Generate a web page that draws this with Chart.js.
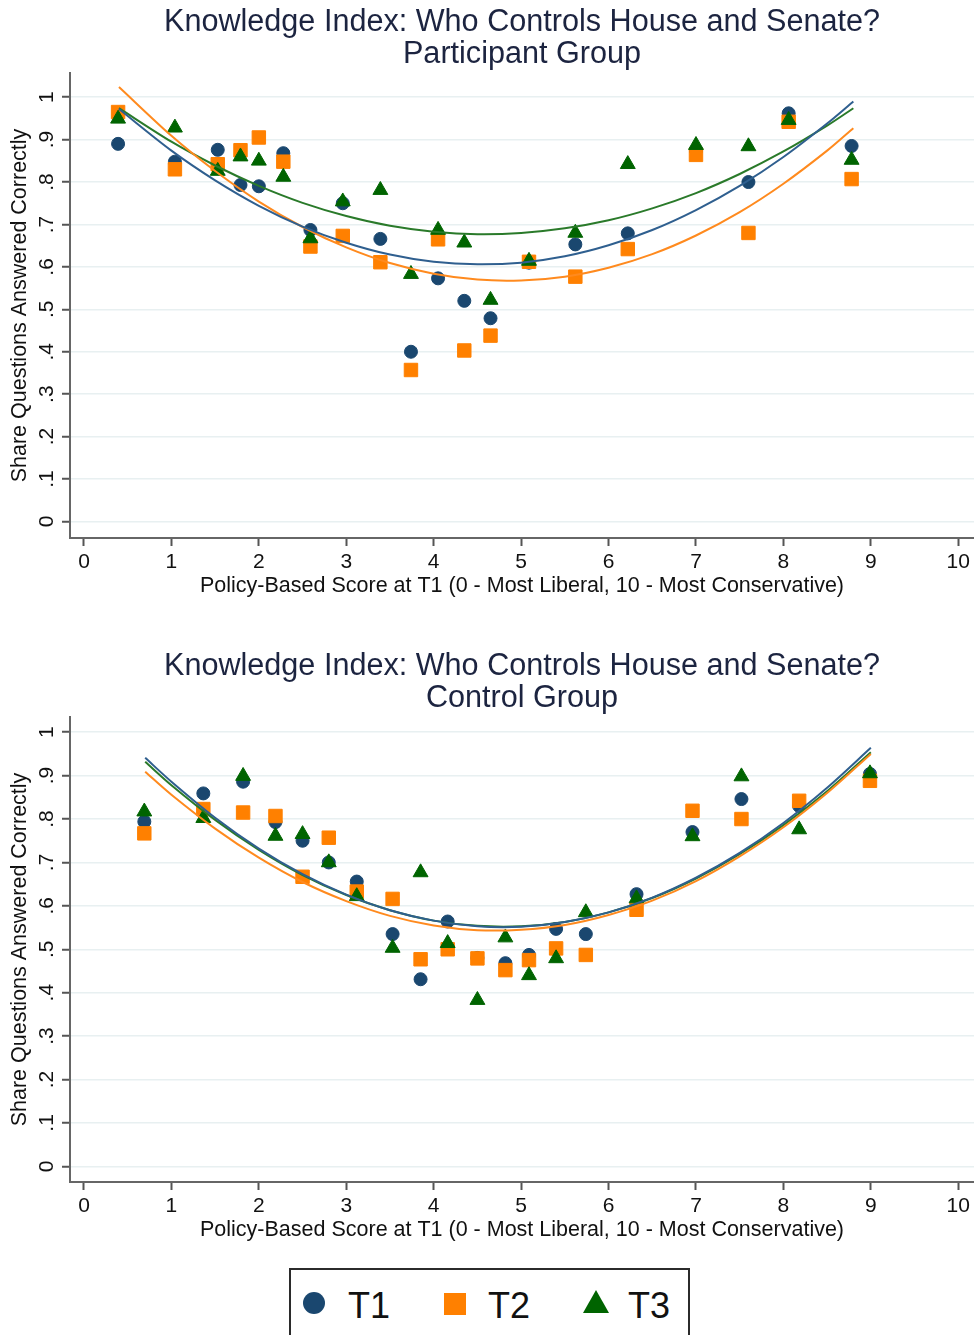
<!DOCTYPE html>
<html>
<head>
<meta charset="utf-8">
<script src="https://cdn.jsdelivr.net/npm/chart.js@4.4.1/dist/chart.umd.min.js"></script>
<style>
  html, body { margin: 0; padding: 0; background: #fff; }
  body { width: 974px; height: 1335px; position: relative; overflow: hidden;
         font-family: "Liberation Sans", Arial, sans-serif; }
  canvas { position: absolute; left: 0; }
  #c1 { top: 0; }
  #c2 { top: 644px; }
  #legend { position: absolute; left: 289px; top: 1268px; width: 401px; height: 90px;
            border: 2px solid #2b2b2b; box-sizing: border-box; }
  #legend .sym, #legend .lab { position: absolute; }
  #legend .lab { font-size: 36px; line-height: 36px; color: #111; }
</style>
</head>
<body>
<canvas id="c1" width="974" height="610"></canvas>
<canvas id="c2" width="974" height="610"></canvas>
<div id="legend">
  <div class="sym" style="left:12px;top:22px;width:22px;height:22px;border-radius:50%;background:#1a476f"></div>
  <span class="lab" style="left:57px;top:18px">T1</span>
  <div class="sym" style="left:153px;top:23px;width:22px;height:22px;background:#ff8000"></div>
  <span class="lab" style="left:197px;top:18px">T2</span>
  <div class="sym" style="left:292px;top:20px;width:0;height:0;border-left:13px solid transparent;border-right:13px solid transparent;border-bottom:23px solid #006400"></div>
  <span class="lab" style="left:337px;top:18px">T3</span>
</div>
<script>
// tick labels
var xTickValues = [0, 1, 2, 3, 4, 5, 6, 7, 8, 9, 10];
var yTickLabels = ['0', '.1', '.2', '.3', '.4', '.5', '.6', '.7', '.8', '.9', '1'];

// Participant group (binned means)
var partX  = [0.39, 1.04, 1.53, 1.79, 2.0, 2.28, 2.59, 2.96, 3.39, 3.74, 4.05, 4.35, 4.65, 5.09, 5.62, 6.22, 7.0, 7.6, 8.06, 8.78];
var partT1 = [0.89, 0.848, 0.876, 0.793, 0.79, 0.868, 0.687, 0.75, 0.666, 0.40, 0.573, 0.52, 0.479, 0.61, 0.653, 0.679, 0.875, 0.80, 0.962, 0.885];
var partT2 = [0.965, 0.83, 0.842, 0.875, 0.905, 0.848, 0.648, 0.673, 0.611, 0.357, 0.665, 0.403, 0.438, 0.612, 0.577, 0.642, 0.864, 0.68, 0.942, 0.807];
var partT3 = [0.949, 0.928, 0.826, 0.86, 0.85, 0.812, 0.667, 0.754, 0.781, 0.583, 0.687, 0.657, 0.522, 0.614, 0.68, 0.842, 0.887, 0.884, 0.946, 0.852];

// Participant group quadratic fit curves
var partFitX  = [0.4, 1, 1.5, 2, 2.5, 3, 3.5, 4, 4.5, 5, 5.5, 6, 6.5, 7, 7.5, 8, 8.5, 8.8];
var partFitT1 = [0.972, 0.874, 0.804, 0.744, 0.695, 0.657, 0.629, 0.612, 0.606, 0.610, 0.625, 0.651, 0.687, 0.734, 0.791, 0.859, 0.938, 0.990];
var partFitT2 = [1.024, 0.909, 0.826, 0.754, 0.694, 0.646, 0.609, 0.584, 0.570, 0.568, 0.577, 0.598, 0.630, 0.674, 0.729, 0.796, 0.874, 0.927];
var partFitT3 = [0.974, 0.895, 0.839, 0.791, 0.751, 0.720, 0.697, 0.683, 0.677, 0.680, 0.691, 0.710, 0.738, 0.774, 0.819, 0.872, 0.933, 0.974];

// Control group
var ctrlX  = [0.69, 1.365, 1.82, 2.19, 2.50, 2.80, 3.12, 3.53, 3.85, 4.16, 4.50, 4.82, 5.09, 5.40, 5.74, 6.32, 6.96, 7.52, 8.18, 8.99];
var ctrlT1 = [0.794, 0.859, 0.886, 0.793, 0.75, 0.70, 0.656, 0.535, 0.431, 0.564, 0.48, 0.468, 0.487, 0.547, 0.535, 0.627, 0.77, 0.846, 0.83, 0.904];
var ctrlT2 = [0.767, 0.823, 0.815, 0.807, 0.667, 0.757, 0.633, 0.616, 0.477, 0.50, 0.479, 0.452, 0.475, 0.502, 0.487, 0.591, 0.819, 0.80, 0.842, 0.888];
var ctrlT3 = [0.817, 0.802, 0.899, 0.761, 0.765, 0.70, 0.622, 0.503, 0.677, 0.514, 0.383, 0.527, 0.44, 0.479, 0.585, 0.617, 0.76, 0.898, 0.776, 0.905];

var ctrlFitX  = [0.7, 1, 1.5, 2, 2.5, 3, 3.5, 4, 4.5, 5, 5.5, 6, 6.5, 7, 7.5, 8, 8.5, 9.0];
var ctrlFitT1 = [0.941, 0.886, 0.803, 0.732, 0.673, 0.626, 0.590, 0.566, 0.553, 0.552, 0.563, 0.585, 0.619, 0.665, 0.722, 0.791, 0.872, 0.964];
var ctrlFitT2 = [0.909, 0.856, 0.778, 0.711, 0.655, 0.611, 0.577, 0.555, 0.544, 0.545, 0.556, 0.579, 0.612, 0.657, 0.714, 0.781, 0.860, 0.950];
var ctrlFitT3 = [0.932, 0.878, 0.798, 0.729, 0.671, 0.625, 0.590, 0.566, 0.554, 0.553, 0.563, 0.585, 0.618, 0.663, 0.719, 0.786, 0.864, 0.954];

var FONT = '"Liberation Sans", Arial, sans-serif';
Chart.defaults.font.family = FONT;
Chart.defaults.color = '#111';

function pts(xs, ys) {
  return xs.map(function(x, i) { return { x: x, y: ys[i] }; });
}

function scatterSet(label, data, color, style, r, order) {
  return {
    label: label, data: data, pointStyle: style, pointRadius: r,
    backgroundColor: color, borderColor: color, borderWidth: 1, order: order
  };
}

function fitSet(data, color) {
  return {
    label: 'fit', data: data, showLine: true, pointRadius: 0,
    borderColor: color, borderWidth: 2, tension: 0.3, fill: false, order: 0
  };
}

function makeChart(id, title, yMin, yMax, fx, f1, f2, f3, x, t1, t2, t3) {
  return new Chart(document.getElementById(id), {
    type: 'scatter',
    data: {
      datasets: [
        fitSet(pts(fx, f1), '#2f5f8f'),
        fitSet(pts(fx, f2), '#ff8a1e'),
        fitSet(pts(fx, f3), '#2a7a2a'),
        scatterSet('T1', pts(x, t1), '#1a476f', 'circle', 6.5, 3),
        scatterSet('T2', pts(x, t2), '#ff8000', 'rect', 9.5, 2),
        scatterSet('T3', pts(x, t3), '#006400', 'triangle', 8.6, 1)
      ]
    },
    options: {
      responsive: false,
      animation: false,
      layout: { autoPadding: false, padding: 0 },
      plugins: {
        legend: { display: false },
        tooltip: { enabled: false },
        title: {
          display: true, text: title, fullSize: false,
          color: '#1c2440',
          font: { size: 30.6, weight: 'normal', lineHeight: 32 / 30.6 },
          padding: { top: 7, bottom: 2 }
        }
      },
      scales: {
        x: {
          type: 'linear', min: -0.16, max: 10.18,
          afterFit: function(s) { s.height = 72; s.paddingLeft = 0; s.paddingRight = 0; },
          afterBuildTicks: function(s) { s.ticks = xTickValues.map(function(v) { return { value: v }; }); },
          ticks: { font: { size: 21 }, padding: 4, color: '#111', maxRotation: 0 },
          grid: { drawOnChartArea: false, drawTicks: true, tickLength: 8, tickColor: '#555', tickWidth: 2 },
          border: { display: true, color: '#666', width: 2 },
          title: {
            display: true, text: 'Policy-Based Score at T1 (0 - Most Liberal, 10 - Most Conservative)',
            font: { size: 21.5 }, color: '#111', padding: { top: 0, bottom: 11 }
          }
        },
        y: {
          type: 'linear', min: yMin, max: yMax,
          afterFit: function(s) { s.width = 70; s.paddingTop = 0; s.paddingBottom = 0; },
          afterBuildTicks: function(s) { s.ticks = yTickLabels.map(function(t, i) { return { value: i / 10 }; }); },
          ticks: {
            font: { size: 21 }, padding: 6, color: '#111',
            minRotation: 90, maxRotation: 90, crossAlign: 'center',
            callback: function(v, i) { return yTickLabels[i]; }
          },
          grid: { color: '#e8f0f1', lineWidth: 1.5, tickLength: 8, tickColor: '#555', tickWidth: 2 },
          border: { display: true, color: '#666', width: 2 },
          title: {
            display: true, text: 'Share Questions Answered Correctly',
            font: { size: 21.5 }, color: '#111', padding: { top: 7, bottom: 0 }
          }
        }
      }
    }
  });
}

makeChart('c1', ['Knowledge Index: Who Controls House and Senate?', 'Participant Group'],
  -0.039, 1.057, partFitX, partFitT1, partFitT2, partFitT3, partX, partT1, partT2, partT3);
makeChart('c2', ['Knowledge Index: Who Controls House and Senate?', 'Control Group'],
  -0.036, 1.035, ctrlFitX, ctrlFitT1, ctrlFitT2, ctrlFitT3, ctrlX, ctrlT1, ctrlT2, ctrlT3);
</script>
</body>
</html>
